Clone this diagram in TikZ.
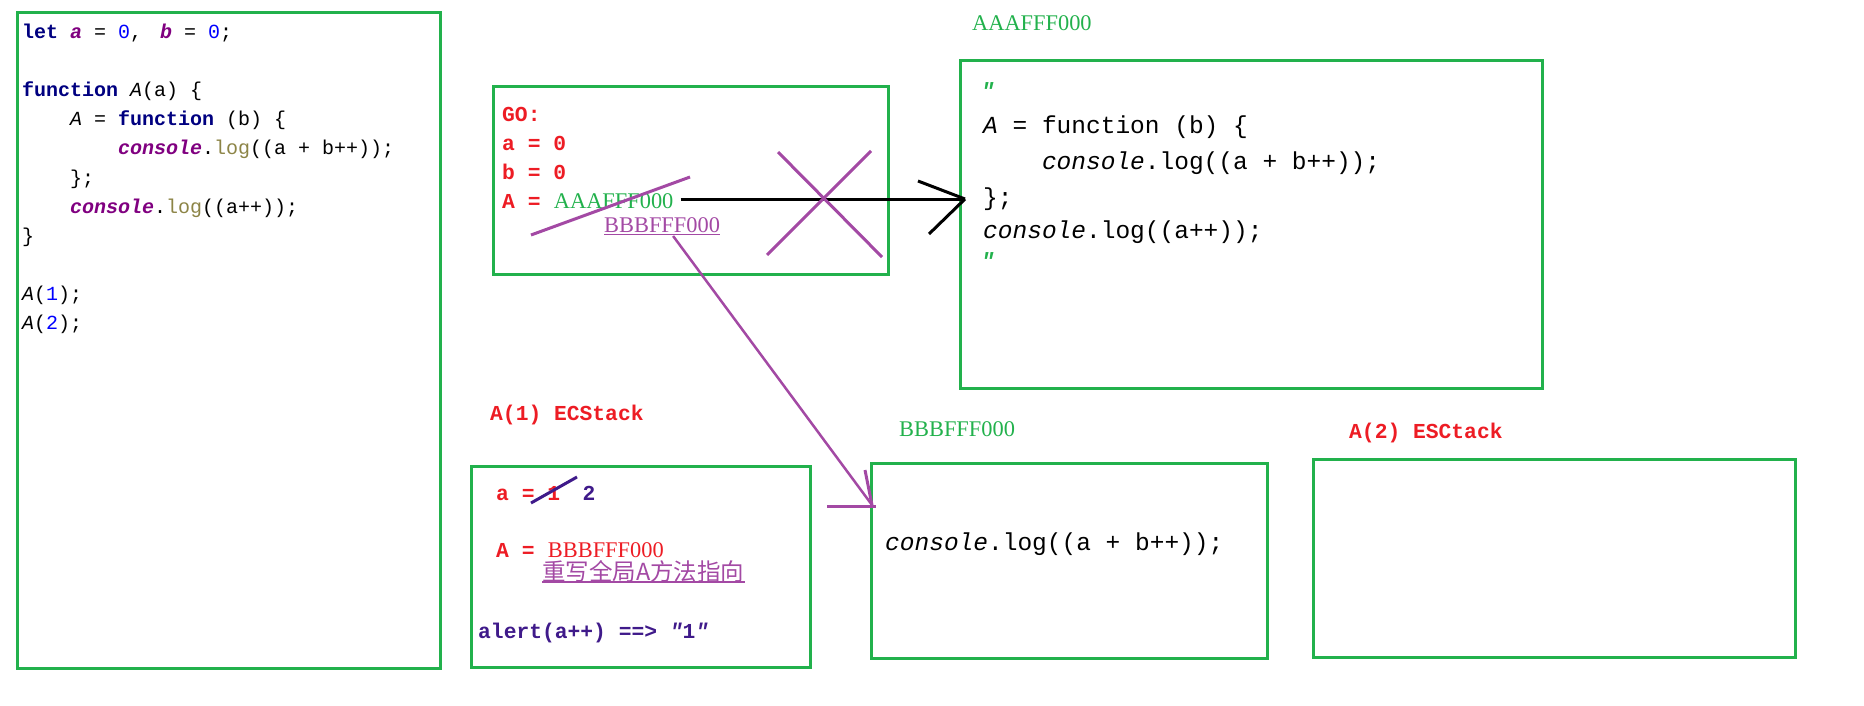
\documentclass[tikz,border=0pt]{standalone}
\usepackage{fontspec}
\setmainfont{Liberation Serif}
\setmonofont{Liberation Mono}
\newfontfamily\cjk{Noto Sans CJK SC}
\usepackage{xcolor}
\usetikzlibrary{positioning, calc}
\definecolor{boxgreen}{HTML}{22B14C}
\definecolor{inkred}{HTML}{ED1C24}
\definecolor{inkpurple}{HTML}{A349A4}
\definecolor{inkindigo}{HTML}{3F1A8A}
\definecolor{kwnavy}{HTML}{000080}
\definecolor{conspurple}{HTML}{800080}
\definecolor{logolive}{HTML}{8C8446}
\definecolor{numblue}{HTML}{0000FF}

\newcommand\kw[1]{\textcolor{kwnavy}{\bfseries #1}}
\newcommand\jsvar[1]{\textcolor{conspurple}{\bfseries\itshape #1}}
\newcommand\jslog{\textcolor{logolive}{log}}
\newcommand\jsnum[1]{\textcolor{numblue}{#1}}
\newcommand\ind{\hspace*{2.4em}}
\newcommand\dq{{\itshape"}}

\tikzset{
  memo/.style={draw=boxgreen, line width=3pt, anchor=north west, inner sep=0pt},
  txt/.style={anchor=base west, inner sep=0pt},
  codeline/.style={txt, font=\ttfamily\fontsize{20}{24}\selectfont},
  redmono/.style={txt, text=inkred, font=\ttfamily\bfseries\fontsize{21.3}{26}\selectfont},
  addr/.style={txt, font=\fontsize{22.4}{26}\selectfont},
  bigcode/.style={txt, font=\ttfamily\fontsize{24.5}{29}\selectfont},
  tick/.style={txt, text=boxgreen, font=\ttfamily\bfseries\itshape\fontsize{22}{26}\selectfont},
  ink/.style={line width=3pt},
}

\begin{document}
\begin{tikzpicture}[x=1pt, y=-1pt]
  \useasboundingbox (0,0) rectangle (1864,706);

  % frames
  \node[memo, minimum width=423pt, minimum height=656pt] (src) at (16,11) {};
  \node[memo, minimum width=395pt, minimum height=188pt] (go) at (492,85) {};
  \node[memo, minimum width=582pt, minimum height=328pt] (aaa) at (959,59) {};
  \node[memo, minimum width=339pt, minimum height=201pt] (ec1) at (470,465) {};
  \node[memo, minimum width=396pt, minimum height=195pt] (bbb) at (870,462) {};
  \node[memo, minimum width=482pt, minimum height=198pt] (ec2) at (1312,458) {};

  % source code
  \node[codeline] (l1) at (22,39) {\kw{let} \jsvar{a} = \jsnum{0},\hspace{0.9em}\jsvar{b} = \jsnum{0};};
  \node[codeline] (l3) at (22,97) {\kw{function} {\itshape A}(a) \{};
  \node[codeline] (l4) at (22,126) {\ind{\itshape A} = \kw{function} (b) \{};
  \node[codeline] (l5) at (22,155) {\ind\ind\jsvar{console}.\jslog((a + b++));};
  \node[codeline] (l6) at (22,184) {\ind\};};
  \node[codeline] (l7) at (22,213) {\ind\jsvar{console}.\jslog((a++));};
  \node[codeline] (l8) at (22,242) {\}};
  \node[codeline] (l10) at (22,300) {{\itshape A}(\jsnum{1});};
  \node[codeline] (l11) at (22,329) {{\itshape A}(\jsnum{2});};

  % global object
  \node[redmono] (go1) at (502,122) {GO:};
  \node[redmono] (go2) at (502,151) {a = 0};
  \node[redmono] (go3) at (502,179) {b = 0};
  \node[redmono] (go4) at (502,208) {A =};
  \node[addr, text=boxgreen, base right=13pt of go4] (goA) {AAAFFF000};
  \node[addr, text=inkpurple] (goB) at (604,233) {BBBFFF000};

  % heap AAAFFF000
  \node[addr, text=boxgreen] (lblA) at (972,31) {AAAFFF000};
  \node[tick] (q1) at (981,99) {"};
  \node[bigcode] (r1) at (983,134) {{\itshape A} = function (b) \{};
  \node[bigcode] (r2) at (983,169) {\ind{\itshape console}.log((a + b++));};
  \node[bigcode] (r3) at (983,205) {\};};
  \node[bigcode] (r4) at (983,238) {{\itshape console}.log((a++));};
  \node[tick] (q2) at (981,268) {"};

  % A(1) context
  \node[redmono] (lblec1) at (490,420) {A(1) ECStack};
  \node[redmono] (ec1a) at (496,500) {a = 1};
  \node[redmono, text=inkindigo, base right=22pt of ec1a] (two) {2};
  \node[redmono] (ec1b) at (496,557) {A =};
  \node[addr, text=inkred, base right=13pt of ec1b] (ec1addr) {BBBFFF000};
  \node[txt, text=inkpurple, font=\cjk\fontsize{23.5}{28}\selectfont] (note) at (542,580) {重写全局A方法指向};
  \node[redmono, text=inkindigo] (alert) at (478,638) {alert(a++) ==> \dq1\dq};

  % heap BBBFFF000 and A(2)
  \node[addr, text=boxgreen] (lblB) at (899,436) {BBBFFF000};
  \node[bigcode] (s1) at (885,550) {{\itshape console}.log((a + b++));};
  \node[redmono] (lblec2) at (1349,438) {A(2) ESCtack};

  % old pointer
  \coordinate (tipA) at ($(go4.base -| aaa.west)+(6,-9)$);
  \draw[ink, black] ($(goA.base east)+(7,-9)$) -- (tipA);
  \draw[ink, black] (tipA) -- ++(-47,-18) (tipA) -- ++(-36,35);

  % new pointer
  \coordinate (tipB) at ($(bbb.north west)+(2,43)$);
  \draw[ink, inkpurple, line width=2.5pt] ($(goB.base)+(11,3)$) -- (tipB);
  \draw[ink, inkpurple] (tipB) -- ++(-7,-35);
  \draw[ink, inkpurple] ($(tipB)+(-45,1)$) -- ++(49,0);

  % underlines, strikes
  \draw[inkpurple, line width=1.5pt] ($(goB.base west)+(0,1.5)$) -- ($(goB.base east)+(0,1.5)$);
  \draw[inkpurple, line width=1.5pt] ($(note.base west)+(0,2)$) -- ($(note.base east)+(0,2)$);
  \draw[ink, inkpurple] (531,235) -- (690,177);
  \draw[ink, inkpurple] (778,152) -- (882,257);
  \draw[ink, inkpurple] (871,151) -- (767,255);
  \draw[ink, inkindigo] (531,503) -- (577,477);
\end{tikzpicture}
\end{document}
